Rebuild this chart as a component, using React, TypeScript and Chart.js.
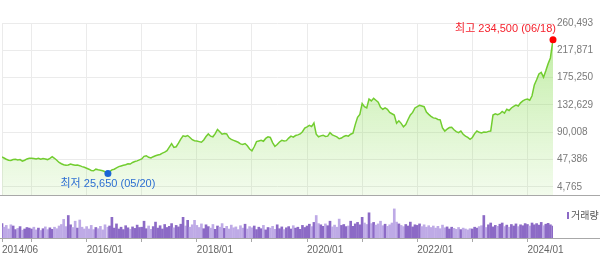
import React, { useEffect, useRef } from "react";
import { Chart, registerables } from "chart.js";

Chart.register(...registerables);

// ---- data (semi-monthly samples) ----
const dates: string[] = [
  "2014-06-18","2014-07-01","2014-07-16","2014-08-01","2014-08-16","2014-09-01","2014-09-16","2014-10-01","2014-10-16","2014-11-01","2014-11-16","2014-12-01","2014-12-16",
  "2015-01-01","2015-01-16","2015-02-01","2015-02-16","2015-03-01","2015-03-16","2015-04-01","2015-04-16","2015-05-01","2015-05-16","2015-06-01","2015-06-16","2015-07-01","2015-07-16","2015-08-01","2015-08-16","2015-09-01","2015-09-16","2015-10-01","2015-10-16","2015-11-01","2015-11-16","2015-12-01","2015-12-16",
  "2016-01-01","2016-01-16","2016-02-01","2016-02-16","2016-03-01","2016-03-16","2016-04-01","2016-04-16","2016-05-01","2016-05-20","2016-06-01","2016-06-16","2016-07-01","2016-07-16","2016-08-01","2016-08-16","2016-09-01","2016-09-16","2016-10-01","2016-10-16","2016-11-01","2016-11-16","2016-12-01","2016-12-16",
  "2017-01-01","2017-01-16","2017-02-01","2017-02-16","2017-03-01","2017-03-16","2017-04-01","2017-04-16","2017-05-01","2017-05-16","2017-06-01","2017-06-16","2017-07-01","2017-07-16","2017-08-01","2017-08-16","2017-09-01","2017-09-16","2017-10-01","2017-10-16","2017-11-01","2017-11-16","2017-12-01","2017-12-16",
  "2018-01-01","2018-01-16","2018-02-01","2018-02-16","2018-03-01","2018-03-16","2018-04-01","2018-04-16","2018-05-01","2018-05-16","2018-06-01","2018-06-16","2018-07-01","2018-07-16","2018-08-01","2018-08-16","2018-09-01","2018-09-16","2018-10-01","2018-10-16","2018-11-01","2018-11-16","2018-12-01","2018-12-16",
  "2019-01-01","2019-01-16","2019-02-01","2019-02-16","2019-03-01","2019-03-16","2019-04-01","2019-04-16","2019-05-01","2019-05-16","2019-06-01","2019-06-16","2019-07-01","2019-07-16","2019-08-01","2019-08-16","2019-09-01","2019-09-16","2019-10-01","2019-10-16","2019-11-01","2019-11-16","2019-12-01","2019-12-16",
  "2020-01-01","2020-01-16","2020-02-01","2020-02-16","2020-03-01","2020-03-16","2020-04-01","2020-04-16","2020-05-01","2020-05-16","2020-06-01","2020-06-16","2020-07-01","2020-07-16","2020-08-01","2020-08-16","2020-09-01","2020-09-16","2020-10-01","2020-10-16","2020-11-01","2020-11-16","2020-12-01","2020-12-16",
  "2021-01-01","2021-01-16","2021-02-01","2021-02-16","2021-03-01","2021-03-16","2021-04-01","2021-04-16","2021-05-01","2021-05-16","2021-06-01","2021-06-16","2021-07-01","2021-07-16","2021-08-01","2021-08-16","2021-09-01","2021-09-16","2021-10-01","2021-10-16","2021-11-01","2021-11-16","2021-12-01","2021-12-16",
  "2022-01-01","2022-01-16","2022-02-01","2022-02-16","2022-03-01","2022-03-16","2022-04-01","2022-04-16","2022-05-01","2022-05-16","2022-06-01","2022-06-16","2022-07-01","2022-07-16","2022-08-01","2022-08-16","2022-09-01","2022-09-16","2022-10-01","2022-10-16","2022-11-01","2022-11-16","2022-12-01","2022-12-16",
  "2023-01-01","2023-01-16","2023-02-01","2023-02-16","2023-03-01","2023-03-16","2023-04-01","2023-04-16","2023-05-01","2023-05-16","2023-06-01","2023-06-16","2023-07-01","2023-07-16","2023-08-01","2023-08-16","2023-09-01","2023-09-16","2023-10-01","2023-10-16","2023-11-01","2023-11-16","2023-12-01","2023-12-16",
  "2024-01-01","2024-01-16","2024-02-01","2024-02-16","2024-03-01","2024-03-16","2024-04-01","2024-04-16","2024-05-01","2024-05-16","2024-06-01","2024-06-18",
];

const prices: number[] = [
  51500, 50000, 48000, 46500, 46000, 47500, 48000, 47000, 47500, 45000, 46500, 48500, 49500,
  49500, 49000, 48500, 49500, 48000, 49000, 48500, 47500, 49500, 52000, 49500, 46500, 43000, 41000, 39500, 38500, 39000, 40500, 39500, 38500, 39000, 38000, 36500, 35500,
  34000, 32500, 30500, 30000, 32500, 31500, 31000, 30000, 28500, 25650, 28500, 31500, 32500, 34500, 36500, 37500, 38500, 39500, 41000, 40500, 43000, 44500, 45500, 47000,
  48500, 52500, 53500, 51000, 50000, 52000, 53500, 54500, 55500, 57500, 59000, 61500, 67000, 72500, 66500, 67500, 73000, 79500, 84500, 83500, 85000, 82000, 78500, 77000,
  76500, 75500, 74500, 78000, 83500, 87500, 84000, 83000, 88000, 94500, 91000, 87000, 88000, 87500, 81500, 79000, 77500, 76000, 74500, 72000, 71000, 72500, 69000, 64000,
  61000, 67500, 75500, 76500, 77500, 76000, 80500, 83000, 82000, 74000, 68000, 71000, 75000, 77500, 76500, 77000, 81000, 84000, 82500, 85000, 86000, 87500, 91000, 96500,
  98500, 101000, 99000, 104500, 87000, 83000, 84500, 85500, 83500, 84000, 89500, 86000, 84500, 83000, 80000, 81000, 83500, 85000, 84000, 87000, 88500, 102000, 113500, 118000,
  135000, 130000, 128000, 142000, 139000, 143000, 140000, 137000, 129000, 126000, 128000, 126000, 121000, 119000, 117000, 104000, 108000, 104000, 98500, 102000, 110000, 117000, 121000, 128000,
  130000, 132000, 131000, 130000, 121500, 118000, 115000, 112500, 112000, 110000, 109500, 97000, 92000, 95000, 97500, 98000, 94000, 91000, 89500, 92000, 87000, 84000, 82000, 79000,
  82000, 88000, 92000, 90000, 89000, 90500, 90000, 91500, 92000, 117000, 119000, 117500, 119000, 122500, 120000, 126000, 124000, 128000, 130500, 132500, 131000, 136000, 139000, 141000,
  142000, 140000, 147000, 164000, 172000, 181000, 183500, 176000, 186000, 197000, 206000, 234500,
];

// relative trading volume (0-100 of the volume panel height)
const volumes: number[] = [
  48, 36, 42, 30, 44, 40, 28, 32, 38, 26, 30, 35, 33,
  30, 36, 27, 33, 25, 31, 37, 28, 34, 29, 36, 31, 40, 45, 62, 38, 75, 44, 35, 56, 33, 60, 36, 30,
  38, 30, 42, 28, 35, 31, 39, 27, 44, 36, 40, 69, 33, 47, 30, 36, 28, 41, 34, 29, 37, 32, 43, 35,
  36, 56, 31, 40, 29, 38, 53, 33, 41, 30, 45, 35, 39, 48, 34, 42, 37, 46, 69, 40, 59, 36, 44, 59,
  42, 35, 47, 31, 44, 38, 33, 45, 29, 40, 36, 48, 32, 39, 30, 43, 34, 37, 28, 41, 33, 46, 30, 38,
  34, 40, 28, 36, 31, 42, 27, 35, 33, 39, 29, 44, 31, 37, 28, 34, 38, 30, 41, 33, 36, 29, 42, 35,
  40, 46, 38, 52, 75, 48, 44, 39, 47, 41, 56, 37, 43, 36, 63, 42, 45, 38, 40, 56, 39, 47, 52, 44,
  69, 50, 45, 84, 48, 52, 43, 47, 56, 41, 46, 39, 44, 50, 97, 53, 47, 42, 38, 45, 40, 53, 37, 44,
  42, 47, 38, 44, 36, 41, 35, 40, 33, 39, 31, 43, 34, 37, 30, 36, 32, 29, 35, 28, 33, 30, 27, 31,
  30, 36, 33, 38, 41, 75, 35, 44, 50, 37, 42, 39, 46, 50, 38, 43, 36, 45, 40, 47, 38, 44, 41, 48,
  45, 40, 50, 44, 48, 43, 52, 41, 46, 49, 44, 40,
];

const priceTicks: number[] = [4765, 47386, 90008, 132629, 175250, 217871, 260493];
const yearTickDates: string[] = [
  "2014-06-18", "2015-01-01", "2016-01-01", "2017-01-01", "2018-01-01", "2019-01-01",
  "2020-01-01", "2021-01-01", "2022-01-01", "2023-01-01", "2024-01-01",
];
const yearTickLabels: string[] = [
  "2014/06", "", "2016/01", "", "2018/01", "", "2020/01", "", "2022/01", "", "2024/01",
];
const maxLabel = "최고 234,500 (06/18)";
const minLabel = "최저 25,650 (05/20)";
const volumeLabel = "거래량";

const FONT = '"Liberation Sans", "Noto Sans CJK KR", Arial, sans-serif';

function monthIndex(d: string): number {
  const [y, m, day] = d.split("-").map(Number);
  return (y - 2014) * 12 + (m - 1) + (day - 1) / 30 - (5 + 17 / 30);
}

const X_MIN = 0;
const X_MAX = monthIndex(dates[dates.length - 1]);

export default function App() {
  const priceRef = useRef<HTMLCanvasElement | null>(null);
  const volRef = useRef<HTMLCanvasElement | null>(null);

  useEffect(() => {
    if (!priceRef.current || !volRef.current) return;

    const pricePoints = dates.map((d, i) => ({ x: monthIndex(d), y: prices[i] }));
    const volPoints = dates.map((d, i) => ({ x: monthIndex(d), y: volumes[i] }));
    const volColors = prices.map((p, i) =>
      i > 0 && p < prices[i - 1] ? "rgb(190,170,230)" : "rgb(140,106,198)"
    );

    let maxI = 0;
    let minI = 0;
    prices.forEach((p, i) => {
      if (p > prices[maxI]) maxI = i;
      if (p < prices[minI]) minI = i;
    });

    const markerPlugin = {
      id: "markers",
      afterDatasetsDraw(chart: any) {
        const { ctx, scales } = chart;
        const xs = scales.x;
        const ys = scales.y;
        ctx.save();
        const mx = xs.getPixelForValue(monthIndex(dates[maxI]));
        const my = ys.getPixelForValue(prices[maxI]);
        ctx.fillStyle = "#ff0000";
        ctx.beginPath();
        ctx.arc(mx, my, 3.5, 0, Math.PI * 2);
        ctx.fill();
        ctx.font = `11px ${FONT}`;
        ctx.fillStyle = "#f5222d";
        ctx.textAlign = "right";
        ctx.textBaseline = "middle";
        ctx.fillText(maxLabel, mx + 3, my - 11);
        const nx = xs.getPixelForValue(monthIndex(dates[minI]));
        const ny = ys.getPixelForValue(prices[minI]);
        ctx.fillStyle = "#1a66d6";
        ctx.beginPath();
        ctx.arc(nx, ny, 3.5, 0, Math.PI * 2);
        ctx.fill();
        ctx.fillStyle = "#2d6fd2";
        ctx.textAlign = "center";
        ctx.fillText(minLabel, nx, ny + 10);
        ctx.restore();
      },
      afterDraw(chart: any) {
        const { ctx, chartArea } = chart;
        ctx.save();
        ctx.strokeStyle = "#a8a8a8";
        ctx.lineWidth = 1;
        ctx.beginPath();
        ctx.moveTo(0, chartArea.bottom + 0.5);
        ctx.lineTo(600, chartArea.bottom + 0.5);
        ctx.stroke();
        ctx.restore();
      },
    };

    const priceChart = new Chart(priceRef.current, {
      type: "line",
      data: {
        datasets: [
          {
            data: pricePoints,
            borderColor: "#72cd30",
            borderWidth: 1.5,
            pointRadius: 0,
            tension: 0,
            fill: "start",
            backgroundColor: (c: any) => {
              const chart = c.chart;
              const ca = chart.chartArea;
              if (!ca) return "rgba(140,220,90,0.3)";
              const g = chart.ctx.createLinearGradient(0, ca.top, 0, ca.bottom);
              g.addColorStop(0, "rgba(120,215,60,0.5)");
              g.addColorStop(1, "rgba(150,225,100,0.12)");
              return g;
            },
          },
        ],
      },
      options: {
        responsive: false,
        animation: false,
        layout: { padding: { top: 23, left: 2, right: 0, bottom: 2 } },
        plugins: { legend: { display: false }, tooltip: { enabled: false } },
        scales: {
          x: {
            type: "linear",
            min: X_MIN,
            max: X_MAX,
            afterBuildTicks: (s: any) => {
              s.ticks = yearTickDates.map((d) => ({ value: monthIndex(d) }));
            },
            ticks: { display: false },
            grid: { color: "#ebebeb", drawTicks: false },
            border: { display: false },
          },
          y: {
            position: "right",
            min: -7748,
            max: 260493,
            afterBuildTicks: (s: any) => {
              s.ticks = priceTicks.map((v) => ({ value: v }));
            },
            afterFit: (s: any) => {
              s.width = 47;
            },
            ticks: {
              padding: 4,
              color: "#7a7a7a",
              font: { family: FONT, size: 10 },
              callback: (v: any) => Number(v).toLocaleString("en-US"),
            },
            grid: { color: "#ebebeb", drawTicks: false },
            border: { display: false },
          },
        },
      },
      plugins: [markerPlugin],
    } as any);

    const volPlugin = {
      id: "volDecor",
      afterDraw(chart: any) {
        const { ctx, chartArea } = chart;
        ctx.save();
        ctx.strokeStyle = "#a8a8a8";
        ctx.lineWidth = 1;
        ctx.beginPath();
        ctx.moveTo(0, chartArea.bottom + 0.5);
        ctx.lineTo(600, chartArea.bottom + 0.5);
        ctx.stroke();
        ctx.fillStyle = "rgb(140,106,198)";
        ctx.fillRect(567, 8, 2, 7);
        ctx.font = `10px ${FONT}`;
        ctx.fillStyle = "#555";
        ctx.textAlign = "left";
        ctx.textBaseline = "middle";
        ctx.fillText(volumeLabel, 571, 12);
        ctx.restore();
      },
    };

    const volChart = new Chart(volRef.current, {
      type: "bar",
      data: {
        datasets: [
          {
            data: volPoints,
            backgroundColor: volColors,
            barThickness: 2,
            borderWidth: 0,
          },
        ],
      },
      options: {
        responsive: false,
        animation: false,
        layout: { padding: { top: 4, left: 2, right: 47, bottom: 6 } },
        plugins: { legend: { display: false }, tooltip: { enabled: false } },
        scales: {
          x: {
            type: "linear",
            min: X_MIN,
            max: X_MAX,
            offset: false,
            afterBuildTicks: (s: any) => {
              s.ticks = yearTickDates.map((d) => ({ value: monthIndex(d) }));
            },
            ticks: {
              autoSkip: false,
              maxRotation: 0,
              minRotation: 0,
              align: "start",
              padding: 2,
              color: "#666",
              font: { family: FONT, size: 10 },
              callback: (_v: any, i: number) => yearTickLabels[i],
            },
            grid: {
              offset: false,
              drawOnChartArea: false,
              drawTicks: true,
              tickLength: 4,
              color: "#a8a8a8",
            },
            border: { display: false },
          },
          y: {
            display: false,
            min: 0,
            max: 100,
          },
        },
      },
      plugins: [volPlugin],
    } as any);

    return () => {
      priceChart.destroy();
      volChart.destroy();
    };
  }, []);

  return (
    <div
      style={{
        position: "absolute",
        left: 0,
        top: 0,
        width: 600,
        height: 264,
        background: "#fff",
        overflow: "hidden",
      }}
    >
      <canvas
        ref={priceRef}
        width={600}
        height={205}
        style={{ position: "absolute", left: 0, top: 0, width: 600, height: 205 }}
      />
      <canvas
        ref={volRef}
        width={600}
        height={60}
        style={{ position: "absolute", left: 0, top: 204, width: 600, height: 60 }}
      />
    </div>
  );
}
